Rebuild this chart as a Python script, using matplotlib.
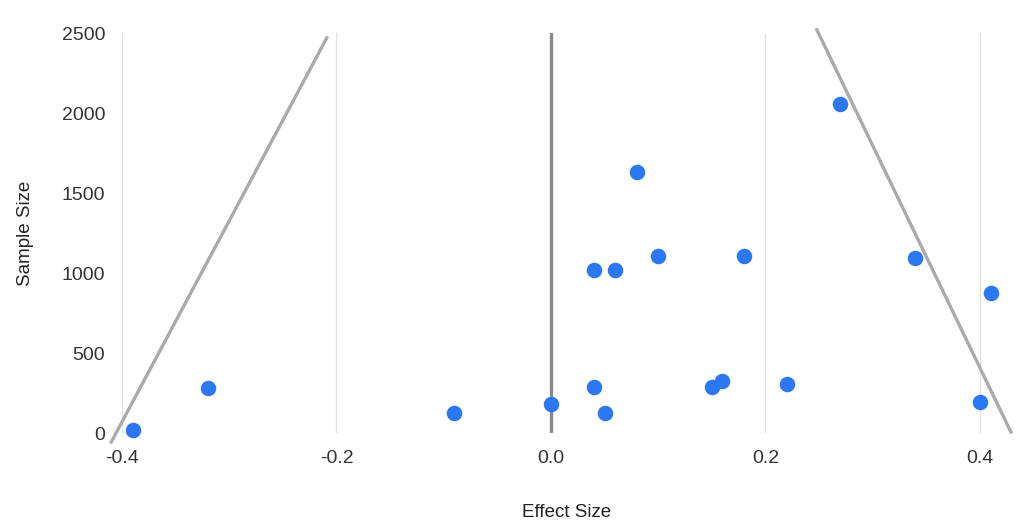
import matplotlib
matplotlib.use("Agg")
import matplotlib.pyplot as plt

# effect size vs sample size (funnel plot)
effect = [-0.39, -0.32, -0.09, 0.0, 0.04, 0.05, 0.04, 0.06, 0.08, 0.10,
          0.15, 0.16, 0.18, 0.22, 0.27, 0.34, 0.40, 0.41]
sample = [20, 280, 125, 181, 290, 125, 1020, 1020, 1630, 1106,
          287, 325, 1106, 306, 2056, 1094, 194, 875]

# funnel boundary lines (x at bottom, x at top)
left_x = [-0.41, -0.209]
left_y = [-56, 2470]
right_x = [0.248, 0.429]
right_y = [2520, 6]

xticks = [-0.4, -0.2, 0.0, 0.2, 0.4]
yticks = [0, 500, 1000, 1500, 2000, 2500]

plt.rcParams['font.family'] = ['Liberation Sans', 'DejaVu Sans']

fig = plt.figure(figsize=(10.27, 5.21), dpi=100)
ax = fig.add_axes([122/1027, 88/521, 890/1027, 400/521])

for t in xticks:
    if t == 0.0:
        ax.axvline(t, color='#8a8a8a', lw=2.4, zorder=1)
    else:
        ax.axvline(t, color='#e2e2e2', lw=1.0, zorder=1)

ax.plot(left_x, left_y, color='#aaaaaa', lw=2.4, clip_on=False, zorder=2)
ax.plot(right_x, right_y, color='#aaaaaa', lw=2.4, clip_on=False, zorder=2)

ax.scatter(effect, sample, s=125, color='#2b78f2', zorder=3, clip_on=False,
           linewidths=0)

ax.set_xlim(-0.4, 0.43)
ax.set_ylim(0, 2500)
ax.set_xticks(xticks)
ax.set_xticklabels(['-0.4', '-0.2', '0.0', '0.2', '0.4'])
ax.set_yticks(yticks)
for s in ax.spines.values():
    s.set_visible(False)
ax.tick_params(length=0, labelsize=14, labelcolor='#333333')
ax.tick_params(axis='x', pad=12)
ax.tick_params(axis='y', pad=12)

ax.set_xlabel('Effect Size', fontsize=13.5, color='#222222', labelpad=27)
ax.set_ylabel('Sample Size', fontsize=13.5, color='#222222', labelpad=20)

fig.savefig('out.png', dpi=100)
